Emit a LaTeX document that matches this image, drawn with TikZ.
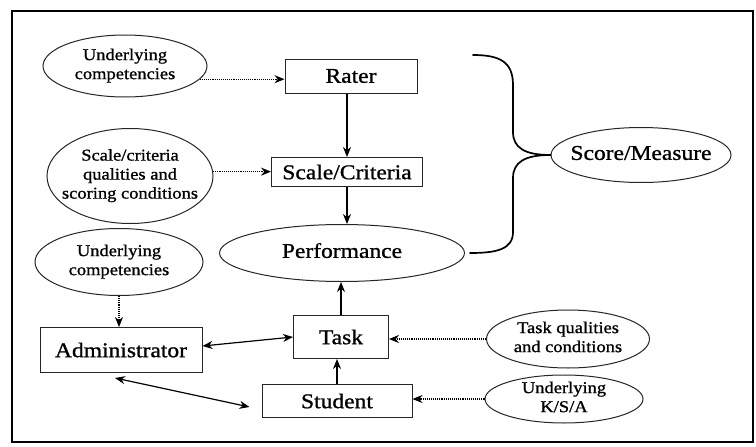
\documentclass[tikz,border=0pt]{standalone}
\usepackage{fontspec}
\setmainfont{Liberation Serif}[FakeStretch=1.12, FakeBold=1]
\usetikzlibrary{arrows.meta,shapes.geometric,positioning}

% text of fixed-size ovals, kept from widening the shape
\newcommand{\ovaltext}[1]{\makebox[0pt]{\smash{\raisebox{-0.25em}{\begin{tabular}[c]{@{}c@{}}#1\end{tabular}}}}}

\begin{document}
\begin{tikzpicture}[x=1pt, y=1pt, node distance=30pt,
box/.style={rectangle, draw=black!85, line width=1pt, inner sep=0pt, font=\fontsize{21}{24}\selectfont},
oval/.style={ellipse, draw=black!85, line width=1pt, inner sep=0pt, font=\fontsize{16.5}{19}\selectfont},
bigoval/.style={oval, font=\fontsize{21}{24}\selectfont},
link/.style={-{Stealth[length=10pt, width=8pt]}, line width=1.2pt},
both/.style={{Stealth[length=10pt, width=8pt]}-{Stealth[length=10pt, width=8pt]}, line width=1.2pt},
dots/.style={densely dotted, -{Stealth[length=10pt, width=8pt]}, line width=1.1pt},
brace/.style={line width=1.7pt, line cap=round}
]
\useasboundingbox (0,0) rectangle (756,-447);
\draw[line width=1.4pt] (12,-11) rectangle (753,-442);

%Nodes
\node[box, minimum width=132pt, minimum height=34pt] (rater) at (351,-76) {Rater};
\node[box, minimum width=151pt, minimum height=29pt] (scale) [below of=rater, xshift=-4pt, yshift=-66pt] {Scale/Criteria};
\node[bigoval, minimum width=245pt, minimum height=57pt] (perf) [below of=scale, xshift=-5pt, yshift=-51pt] {\ovaltext{Performance}};
\node[box, minimum width=95pt, minimum height=43pt] (task) [below of=perf, xshift=-1pt, yshift=-54pt] {Task};
\node[box, minimum width=150pt, minimum height=33pt] (student) [below of=task, xshift=-4pt, yshift=-34pt] {Student};
\node[box, minimum width=162pt, minimum height=45pt] (adm) [left of=task, xshift=-190pt, yshift=-13pt] {Administrator};
\node[oval, minimum width=168pt, minimum height=67pt] (ucb) [above of=adm, xshift=-2pt, yshift=58pt] {\ovaltext{Underlying\\competencies}};
\node[oval, minimum width=166pt, minimum height=95pt] (scc) [left of=scale, xshift=-187pt, yshift=-4pt] {\ovaltext{Scale/criteria\\qualities and\\scoring conditions}};
\node[oval, minimum width=164pt, minimum height=62pt] (uca) [left of=rater, xshift=-196pt, yshift=10pt] {\ovaltext{Underlying\\competencies}};
\node[bigoval, minimum width=180pt, minimum height=55pt] (score) [right of=scale, xshift=264pt, yshift=17pt] {\ovaltext{Score/Measure}};
\node[oval, minimum width=163pt, minimum height=58pt] (tq) [right of=task, xshift=197pt, yshift=-2pt] {\ovaltext{Task qualities\\and conditions}};
\node[oval, minimum width=158pt, minimum height=48pt] (ksa) [right of=student, xshift=197pt, yshift=2pt] {\ovaltext{Underlying\\K/S/A}};

%Lines
\draw[dots] (uca.-10) -- (uca.-10 -| rater.west);
\draw[dots] (scc.3) -- (scc.3 -| scale.west);
\draw[dots] (tq.west) -- (tq.west -| task.east);
\draw[dots] (ksa.west) -- (ksa.west -| student.east);
\draw[dots] (ucb.south) -- (ucb.south |- adm.north);
\draw[link] (scale.north |- rater.south) -- (scale.north);
\draw[link] (scale.south) -- (perf.north -| scale.south);
\draw[link] (task.north) -- (task.north |- perf.south);
\draw[link] (student.north) -- (student.north |- task.south);
\draw[both] ([yshift=4pt]adm.east) -- (task.west);
\draw[both] ([xshift=-6pt, yshift=-5pt]adm.south) -- ([xshift=-12pt, yshift=-6pt]student.west);

%Brace
\coordinate (btop) at (473,-55);
\draw[brace] (btop) .. controls (500,-55) and (513,-62) .. (513,-85) -- (513,-132)
  .. controls (513,-148) and (525,-155) .. (score.west);
\draw[brace] (score.west) .. controls (525,-155) and (513,-162) .. (513,-178) -- (513,-232)
  .. controls (513,-250) and (495,-253) .. ([xshift=5pt]perf.east);
\end{tikzpicture}
\end{document}
